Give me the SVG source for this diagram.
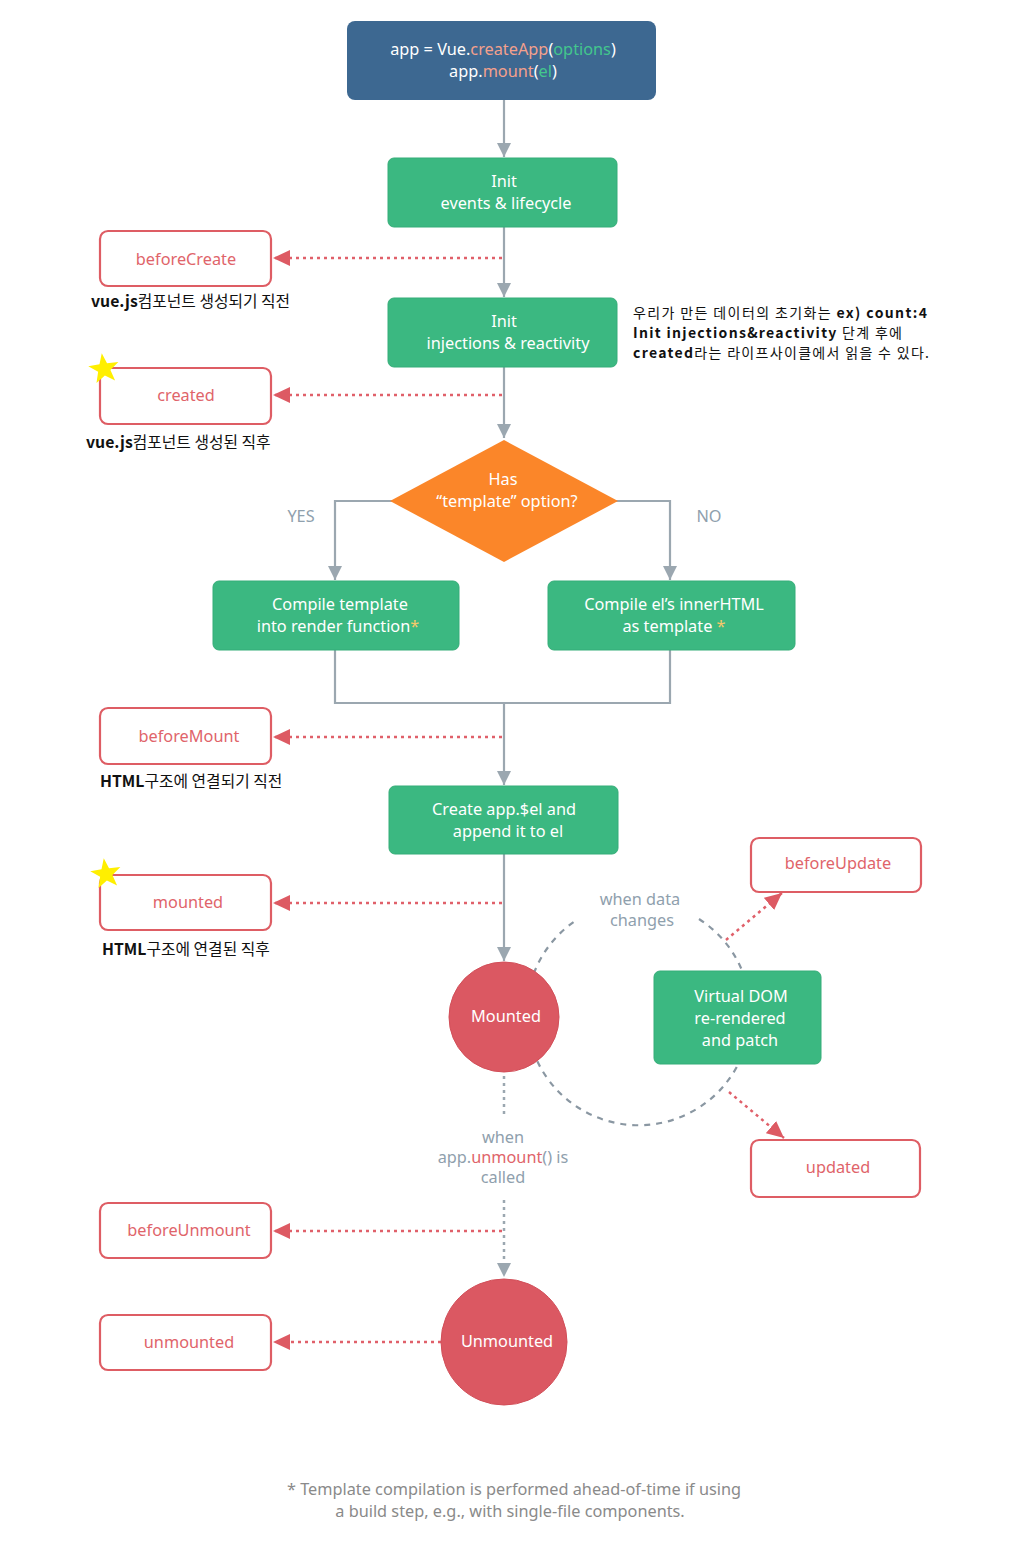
<svg xmlns="http://www.w3.org/2000/svg" xmlns:xlink="http://www.w3.org/1999/xlink" width="1029" height="1547" viewBox="0 0 1029 1547">
<style>
text{font-family:"Noto Sans","Open Sans","Noto Sans CJK KR",sans-serif;font-size:16.3px;text-anchor:middle}
.w{fill:#ffffff}
.hook{fill:#ffffff;stroke:#de5d64;stroke-width:2.2}
.hookt{fill:#e0646a}
.green{fill:#3bb881;stroke:#35ad78;stroke-width:1}
.gray{fill:#8fa0ad}
.foot{fill:#8a8a8a}
.flow{fill:none;stroke:#9ba7b0;stroke-width:2.2}
.rdot{fill:none;stroke:#e0606a;stroke-width:2.5;stroke-dasharray:3 4}
.gdot{fill:none;stroke:#9ba7b0;stroke-width:2.5;stroke-dasharray:3 4}
.arc{fill:none;stroke:#8a97a2;stroke-width:2.2;stroke-dasharray:6 6}
.cap{font-family:"Noto Sans CJK KR","Noto Sans",sans-serif;font-size:15.8px;text-anchor:start;fill:#111}
.note{font-size:14px}
.b{font-weight:bold}
.circ{fill:#db5862;stroke:#d24f59;stroke-width:1}
.star{fill:#ffef00}
</style>
<defs>
<marker id="ga" markerUnits="userSpaceOnUse" markerWidth="14" markerHeight="14" refX="14" refY="7" orient="auto"><path d="M0,0 L14,7 L0,14 z" fill="#9ba7b0"/></marker>
<marker id="ra" markerUnits="userSpaceOnUse" markerWidth="17" markerHeight="16" refX="17" refY="8" orient="auto"><path d="M0,0 L17,8 L0,16 z" fill="#dd5a63"/></marker>
<polygon id="starshape" points="0,-16 3.8,-5.3 15.2,-4.9 6.2,2 9.4,12.9 0,6.5 -9.4,12.9 -6.2,2 -15.2,-4.9 -3.8,-5.3"/>
</defs>

<g id="connectors">
<line class="flow" x1="504" y1="100" x2="504" y2="157" marker-end="url(#ga)"/>
<line class="flow" x1="504" y1="227" x2="504" y2="297" marker-end="url(#ga)"/>
<line class="flow" x1="504" y1="367" x2="504" y2="438" marker-end="url(#ga)"/>
<polyline class="flow" points="392,501 335,501 335,580" marker-end="url(#ga)"/>
<polyline class="flow" points="616,501 670,501 670,580" marker-end="url(#ga)"/>
<polyline class="flow" points="335,650 335,703 670,703 670,650"/>
<line class="flow" x1="504" y1="703" x2="504" y2="785" marker-end="url(#ga)"/>
<line class="flow" x1="504" y1="854" x2="504" y2="961" marker-end="url(#ga)"/>
<line class="rdot" x1="502" y1="258" x2="273" y2="258" marker-end="url(#ra)"/>
<line class="rdot" x1="502" y1="395" x2="273" y2="395" marker-end="url(#ra)"/>
<line class="rdot" x1="502" y1="737" x2="273" y2="737" marker-end="url(#ra)"/>
<line class="rdot" x1="502" y1="903" x2="273" y2="903" marker-end="url(#ra)"/>
<path class="arc" d="M 699 919 A 112 112 0 1 1 575 921"/>
<line class="rdot" x1="726" y1="940" x2="782" y2="893" marker-end="url(#ra)"/>
<line class="rdot" x1="729" y1="1092" x2="784" y2="1138" marker-end="url(#ra)"/>
<line class="gdot" x1="504" y1="1076" x2="504" y2="1116"/>
<line class="gdot" x1="504" y1="1200" x2="504" y2="1277" marker-end="url(#ga)"/>
<line class="rdot" x1="502" y1="1231" x2="273" y2="1231" marker-end="url(#ra)"/>
<line class="rdot" x1="441" y1="1342" x2="273" y2="1342" marker-end="url(#ra)"/>
</g>

<g id="start">
<rect x="347" y="21" width="309" height="79" rx="8" fill="#3d6891"/>
<text x="503" y="55" class="w">app = Vue.<tspan fill="#f4a08c">createApp</tspan>(<tspan fill="#43c68d">options</tspan>)</text>
<text x="503" y="77" class="w">app.<tspan fill="#f4a08c">mount</tspan>(<tspan fill="#43c68d">el</tspan>)</text>
</g>

<g id="init-events">
<rect class="green" x="388" y="158" width="229" height="69" rx="6"/>
<text x="504" y="187" class="w">Init</text>
<text x="506" y="209" class="w">events &amp; lifecycle</text>
</g>

<g id="beforeCreate">
<rect class="hook" x="100" y="231" width="171" height="55" rx="8"/>
<text x="186" y="265" class="hookt">beforeCreate</text>
<text x="91" y="307" class="cap"><tspan class="b">vue.js</tspan>컴포넌트 생성되기 직전</text>
</g>

<g id="init-injections">
<rect class="green" x="388" y="298" width="229" height="69" rx="6"/>
<text x="504" y="327" class="w">Init</text>
<text x="508" y="349" class="w">injections &amp; reactivity</text>
</g>

<g id="note">
<text x="633" y="318" class="cap note" textLength="294" lengthAdjust="spacing">우리가 만든 데이터의 초기화는 <tspan class="b">ex) count:4</tspan></text>
<text x="633" y="338" class="cap note" textLength="269" lengthAdjust="spacing"><tspan class="b">Init injections&amp;reactivity</tspan> 단계 후에</text>
<text x="633" y="358" class="cap note" textLength="296" lengthAdjust="spacing"><tspan class="b">created</tspan>라는 라이프사이클에서 읽을 수 있다.</text>
</g>

<g id="created">
<rect class="hook" x="100" y="368" width="171" height="56" rx="8"/>
<text x="186" y="401" class="hookt">created</text>
<use href="#starshape" xlink:href="#starshape" class="star" transform="translate(104,369) rotate(-8)"/>
<text x="86" y="448" class="cap"><tspan class="b">vue.js</tspan>컴포넌트 생성된 직후</text>
</g>

<g id="decision">
<polygon points="504,440 618,501 504,562 390,501" fill="#fb8629"/>
<text x="503" y="485" class="w">Has</text>
<text x="507" y="507" class="w">“template” option?</text>
<text x="301" y="522" class="gray">YES</text>
<text x="709" y="522" class="gray">NO</text>
</g>

<g id="compile-template">
<rect class="green" x="213" y="581" width="246" height="69" rx="6"/>
<text x="340" y="610" class="w">Compile template</text>
<text x="338" y="632" class="w">into render function<tspan fill="#f5c96a">*</tspan></text>
</g>

<g id="compile-el">
<rect class="green" x="548" y="581" width="247" height="69" rx="6"/>
<text x="674" y="610" class="w">Compile el’s innerHTML</text>
<text x="674" y="632" class="w">as template <tspan fill="#f5c96a">*</tspan></text>
</g>

<g id="beforeMount">
<rect class="hook" x="100" y="708" width="171" height="56" rx="8"/>
<text x="189" y="742" class="hookt">beforeMount</text>
<text x="100" y="787" class="cap"><tspan class="b">HTML</tspan>구조에 연결되기 직전</text>
</g>

<g id="create-el">
<rect class="green" x="389" y="786" width="229" height="68" rx="6"/>
<text x="504" y="815" class="w">Create app.$el and</text>
<text x="508" y="837" class="w">append it to el</text>
</g>

<g id="mounted-hook">
<rect class="hook" x="100" y="875" width="171" height="55" rx="8"/>
<text x="188" y="908" class="hookt">mounted</text>
<use href="#starshape" xlink:href="#starshape" class="star" transform="translate(106,874) rotate(-8)"/>
<text x="102" y="955" class="cap"><tspan class="b">HTML</tspan>구조에 연결된 직후</text>
</g>

<g id="mounted-state">
<circle class="circ" cx="504" cy="1017" r="55"/>
<text x="506" y="1022" class="w">Mounted</text>
</g>

<g id="data-changes">
<text x="640" y="905" class="gray">when data</text>
<text x="642" y="926" class="gray">changes</text>
</g>

<g id="vdom">
<rect class="green" x="654" y="971" width="167" height="93" rx="6"/>
<text x="741" y="1002" class="w">Virtual DOM</text>
<text x="740" y="1024" class="w">re-rendered</text>
<text x="740" y="1046" class="w">and patch</text>
</g>

<g id="beforeUpdate">
<rect class="hook" x="751" y="838" width="170" height="54" rx="8"/>
<text x="838" y="869" class="hookt">beforeUpdate</text>
</g>

<g id="updated">
<rect class="hook" x="751" y="1140" width="169" height="57" rx="8"/>
<text x="838" y="1173" class="hookt">updated</text>
</g>

<g id="unmount-call">
<text x="503" y="1143" class="gray">when</text>
<text x="503" y="1163" class="gray">app.<tspan fill="#e0646a">unmount</tspan>() is</text>
<text x="503" y="1183" class="gray">called</text>
</g>

<g id="beforeUnmount">
<rect class="hook" x="100" y="1203" width="171" height="55" rx="8"/>
<text x="189" y="1236" class="hookt">beforeUnmount</text>
</g>

<g id="unmounted-hook">
<rect class="hook" x="100" y="1315" width="171" height="55" rx="8"/>
<text x="189" y="1348" class="hookt">unmounted</text>
</g>

<g id="unmounted-state">
<circle class="circ" cx="504" cy="1342" r="63"/>
<text x="507" y="1347" class="w">Unmounted</text>
</g>

<g id="footnote">
<text x="514" y="1495" class="foot">* Template compilation is performed ahead-of-time if using</text>
<text x="510" y="1517" class="foot">a build step, e.g., with single-file components.</text>
</g>
</svg>
